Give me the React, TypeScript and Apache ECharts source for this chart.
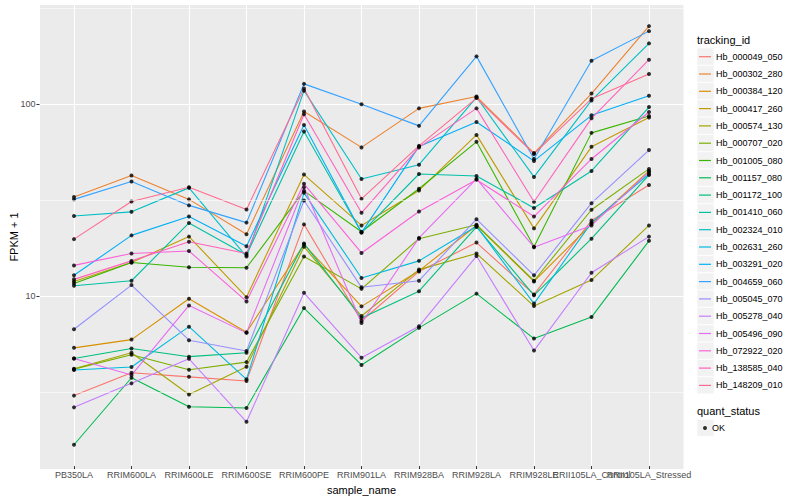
import React, { useEffect, useRef } from 'react';
import * as echarts from 'echarts';

const categories = [
  'PB350LA', 'RRIM600LA', 'RRIM600LE', 'RRIM600SE', 'RRIM600PE', 'RRIM901LA',
  'RRIM928BA', 'RRIM928LA', 'RRIM928LE', 'RRII105LA_Control', 'RRII105LA_Stressed',
];

const trackingIds = [
  'Hb_000049_050', 'Hb_000302_280', 'Hb_000384_120', 'Hb_000417_260', 'Hb_000574_130',
  'Hb_000707_020', 'Hb_001005_080', 'Hb_001157_080', 'Hb_001172_100', 'Hb_001410_060',
  'Hb_002324_010', 'Hb_002631_260', 'Hb_003291_020', 'Hb_004659_060', 'Hb_005045_070',
  'Hb_005278_040', 'Hb_005496_090', 'Hb_072922_020', 'Hb_138585_040', 'Hb_148209_010',
];

const lineColors = [
  '#F8766D', '#EA8331', '#D89000', '#C09B00', '#A3A500', '#7CAE00', '#39B600', '#00BB4E',
  '#00BF7D', '#00C1A3', '#00BFC4', '#00BAE0', '#00B0F6', '#35A2FF', '#9590FF', '#C77CFF',
  '#E76BF3', '#FA62DB', '#FF62BC', '#FF6C91',
];

const hb_000049_050 = [2.95, 3.89, 3.7, 3.52, 23.3, 7.26, 13.2, 18.7, 10.0, 24.4, 37.5];
const hb_000302_280 = [32.4, 42.0, 31.5, 20.7, 90.9, 59.0, 94.5, 109, 55.1, 113, 255];
const hb_000384_120 = [5.25, 5.8, 9.49, 6.34, 18.3, 8.66, 13.3, 23.0, 11.7, 23.4, 44.4];
const hb_000417_260 = [11.7, 14.7, 20.1, 9.68, 42.5, 23.0, 35.1, 68.6, 22.2, 59.4, 84.6];
const hb_000574_130 = [4.08, 4.95, 2.99, 4.18, 17.8, 7.71, 13.5, 16.4, 8.69, 11.9, 23.0];
const hb_000707_020 = [4.06, 4.83, 4.03, 4.42, 15.8, 10.7, 19.6, 23.2, 11.8, 27.8, 45.5];
const hb_001005_080 = [11.4, 14.7, 13.9, 13.8, 34.9, 21.3, 35.8, 63.1, 17.8, 70.3, 86.2];
const hb_001157_080 = [1.63, 3.66, 2.58, 2.54, 8.49, 4.27, 6.68, 10.1, 5.87, 7.61, 19.1];
const hb_001172_100 = [4.62, 5.21, 4.72, 4.95, 18.5, 7.53, 10.4, 22.6, 9.9, 19.6, 42.3];
const hb_001410_060 = [11.1, 11.8, 23.7, 16.1, 71.5, 21.1, 42.8, 41.8, 28.4, 44.4, 96.0];
const hb_002324_010 = [25.8, 27.1, 36.2, 15.8, 117, 40.3, 47.9, 108, 41.3, 104, 207];
const hb_002631_260 = [4.02, 4.17, 6.78, 3.59, 34.1, 12.2, 15.0, 22.8, 8.96, 23.8, 42.8];
const hb_003291_020 = [12.6, 20.4, 25.6, 17.9, 77.4, 21.1, 59.7, 80.2, 50.1, 86.9, 110];
const hb_004659_060 = [31.5, 39.1, 29.3, 23.8, 127, 99.2, 76.5, 177, 51.3, 168, 240];
const hb_005045_070 = [6.57, 11.2, 5.76, 5.05, 31.1, 10.9, 11.8, 24.8, 12.6, 30.1, 57.1];
const hb_005278_040 = [2.56, 3.42, 4.6, 2.15, 10.2, 4.66, 6.81, 15.9, 5.08, 13.0, 20.1];
const hb_005496_090 = [4.62, 3.78, 8.76, 6.29, 36.5, 7.09, 19.8, 40.3, 17.7, 23.0, 43.9];
const hb_072922_020 = [14.2, 16.4, 16.9, 9.19, 38.0, 16.5, 27.2, 39.9, 25.6, 51.3, 90.4];
const hb_138585_040 = [12.0, 15.0, 18.9, 16.4, 88.0, 26.8, 59.0, 94.5, 30.6, 83.8, 170];
const hb_148209_010 = [19.5, 30.7, 36.5, 27.9, 120, 31.7, 60.1, 107, 54.5, 106, 143];

const seriesValues = [
  hb_000049_050, hb_000302_280, hb_000384_120, hb_000417_260, hb_000574_130,
  hb_000707_020, hb_001005_080, hb_001157_080, hb_001172_100, hb_001410_060,
  hb_002324_010, hb_002631_260, hb_003291_020, hb_004659_060, hb_005045_070,
  hb_005278_040, hb_005496_090, hb_072922_020, hb_138585_040, hb_148209_010,
];

const yBreakLow = 10;
const yBreakHigh = 100;
const yMinorGrid = [3.1623, 31.623, 316.23];
const yMin = 1.26;
const yMax = 329;
const quantStatus = ['OK'];

const FONT = '"Liberation Sans", Arial, Helvetica, sans-serif';

// panel geometry (pixels)
const PANEL_LEFT = 39.5;
const PANEL_RIGHT = 116.5;
const PANEL_TOP = 5;
const PANEL_BOTTOM = 31;
const CHART_H = 500;

export default function App() {
  const ref = useRef<HTMLDivElement>(null);

  useEffect(() => {
    document.body.style.margin = '0';
    const chart = echarts.init(ref.current as HTMLDivElement, undefined, { renderer: 'svg' });

    // place the break-axis grid exactly on the log positions of 10 and 100
    const panelH = CHART_H - PANEL_TOP - PANEL_BOTTOM;
    const lMin = Math.log10(yMin);
    const lMax = Math.log10(yMax);
    const yPix = (v: number) =>
      PANEL_TOP + panelH * (1 - (Math.log10(v) - lMin) / (lMax - lMin));
    const breakTop = yPix(yBreakHigh);
    const breakBottom = CHART_H - yPix(yBreakLow);

    const legendTop = 48.05;
    const legendStep = 17.3;
    const keyBoxes: any[] = trackingIds.map((_, i) => ({
      type: 'rect',
      z: 1,
      silent: true,
      shape: { x: 697, y: legendTop + i * legendStep, width: 17, height: 17 },
      style: { fill: '#F2F2F2', stroke: '#FFFFFF', lineWidth: 0.6 },
    }));
    const okTop = 419.35;
    keyBoxes.push({
      type: 'rect',
      z: 1,
      silent: true,
      shape: { x: 697, y: okTop, width: 17, height: 17 },
      style: { fill: '#F2F2F2', stroke: '#FFFFFF', lineWidth: 0.6 },
    });

    const titles: any[] = [
      {
        type: 'text', z: 1, left: 697, top: 34, silent: true,
        style: { text: 'tracking_id', fontSize: 11, fill: '#000000', fontFamily: FONT },
      },
      {
        type: 'text', z: 1, left: 697, top: 405.5, silent: true,
        style: { text: 'quant_status', fontSize: 11, fill: '#000000', fontFamily: FONT },
      },
    ];

    const lineSeries = trackingIds.map((name, k) => ({
      name,
      type: 'line',
      xAxisIndex: 1,
      yAxisIndex: 1,
      data: seriesValues[k],
      symbol: 'none',
      showSymbol: false,
      silent: true,
      z: 2,
      itemStyle: { color: lineColors[k] },
      lineStyle: { color: lineColors[k], width: 1.1 },
    }));

    const pointData: number[][] = [];
    seriesValues.forEach((vals) => vals.forEach((v, i) => pointData.push([i, v])));

    const option: any = {
      animation: false,
      textStyle: { fontFamily: FONT },
      grid: [
        {
          left: PANEL_LEFT, right: PANEL_RIGHT, top: PANEL_TOP, bottom: PANEL_BOTTOM,
          show: true, backgroundColor: '#EBEBEB', borderWidth: 0,
        },
        { left: 74, right: 151, top: PANEL_TOP, bottom: PANEL_BOTTOM, show: false },
        { left: PANEL_LEFT, right: PANEL_RIGHT, top: breakTop, bottom: breakBottom, show: false },
      ],
      xAxis: [
        { gridIndex: 0, type: 'value', min: 0, max: 1, show: false },
        {
          gridIndex: 1,
          type: 'category',
          data: categories,
          boundaryGap: false,
          axisLine: { show: false },
          axisTick: { show: true, length: 3, lineStyle: { color: '#333333', width: 1 } },
          axisLabel: {
            interval: 0, hideOverlap: false, color: '#4D4D4D', fontSize: 9, margin: 4,
            fontFamily: FONT,
          },
          splitLine: { show: true, lineStyle: { color: '#FFFFFF', width: 1.1 } },
          name: 'sample_name',
          nameLocation: 'middle',
          nameGap: 12,
          nameTextStyle: { fontSize: 11, color: '#000000', fontFamily: FONT },
        },
        { gridIndex: 2, type: 'value', min: 0, max: 1, show: false },
      ],
      yAxis: [
        {
          gridIndex: 0,
          type: 'log',
          logBase: 10,
          min: yMin,
          max: yMax,
          axisLine: { show: false },
          axisTick: { show: false },
          axisLabel: { show: false },
          splitLine: { show: false },
          name: 'FPKM + 1',
          nameLocation: 'middle',
          nameGap: 21,
          nameRotate: 90,
          nameTextStyle: { fontSize: 11, color: '#000000', fontFamily: FONT },
        },
        { gridIndex: 1, type: 'log', logBase: 10, min: yMin, max: yMax, show: false },
        {
          gridIndex: 2,
          type: 'log',
          logBase: 10,
          min: yBreakLow,
          max: yBreakHigh,
          axisLine: { show: false },
          axisTick: { show: true, length: 3, lineStyle: { color: '#333333', width: 1 } },
          axisLabel: { color: '#4D4D4D', fontSize: 9, margin: 4, fontFamily: FONT },
          splitLine: { show: true, lineStyle: { color: '#FFFFFF', width: 1.1 } },
        },
      ],
      legend: [
        {
          data: trackingIds,
          orient: 'vertical',
          left: 699,
          top: legendTop,
          padding: 0,
          itemGap: 0,
          itemWidth: 12,
          itemHeight: 1.2,
          icon: 'rect',
          itemTextGap: 6,
          selectedMode: false,
          z: 5,
          textStyle: { fontSize: 9, color: '#000000', lineHeight: legendStep, fontFamily: FONT },
        },
        {
          data: quantStatus,
          orient: 'vertical',
          left: 703,
          top: okTop,
          padding: 0,
          itemGap: 0,
          itemWidth: 4,
          itemHeight: 4,
          icon: 'circle',
          itemTextGap: 10,
          selectedMode: false,
          z: 5,
          textStyle: { fontSize: 9, color: '#000000', lineHeight: legendStep, fontFamily: FONT },
        },
      ],
      graphic: [...keyBoxes, ...titles],
      series: [
        {
          name: '',
          type: 'line',
          xAxisIndex: 0,
          yAxisIndex: 0,
          data: [],
          silent: true,
          z: 1,
          markLine: {
            silent: true,
            symbol: ['none', 'none'],
            label: { show: false },
            lineStyle: { color: '#FFFFFF', width: 0.55, type: 'solid' },
            data: yMinorGrid.map((v) => ({ yAxis: v })),
          },
        },
        ...lineSeries,
        {
          name: quantStatus[0],
          type: 'scatter',
          xAxisIndex: 1,
          yAxisIndex: 1,
          data: pointData,
          symbol: 'circle',
          symbolSize: 4,
          silent: true,
          z: 3,
          itemStyle: { color: '#000000' },
        },
      ],
    };

    chart.setOption(option);
    return () => chart.dispose();
  }, []);

  return (
    <div
      ref={ref}
      style={{ position: 'absolute', left: 0, top: 0, width: 800, height: 500 }}
    />
  );
}
